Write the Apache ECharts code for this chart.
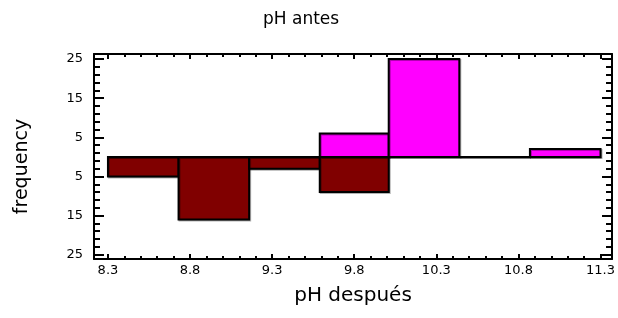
<!DOCTYPE html>
<html>
<head>
<meta charset="utf-8">
<script src="https://cdn.jsdelivr.net/npm/echarts@6/dist/echarts.min.js"></script>
<style>
  html, body { margin: 0; padding: 0; background: #fff; }
  #chart { width: 618px; height: 318px; }
</style>
</head>
<body>
<div id="chart"></div>
<script>
// bin edges of both histograms (pH)
const binEdges = [8.3, 8.73, 9.16, 9.59, 10.01, 10.44, 10.87, 11.3]
// counts per bin
const antesCounts = [0, 0, 0, 6, 25, 0, 2]
const despuesCounts = [5, 16, 3, 9, 0, 0, 0]

const xMajorTicks = [8.3, 8.8, 9.3, 9.8, 10.3, 10.8, 11.3]
const xMinorTicks = [
  8.3, 8.4, 8.5, 8.6, 8.7, 8.8, 8.9, 9.0, 9.1, 9.2, 9.3, 9.4, 9.5, 9.6, 9.7, 9.8,
  9.9, 10.0, 10.1, 10.2, 10.3, 10.4, 10.5, 10.6, 10.7, 10.8, 10.9, 11.0, 11.1, 11.2, 11.3
]
const yMajorTicks = [-25, -15, -5, 5, 15, 25]
const yMinorTicks = [
  -25, -23, -21, -19, -17, -15, -13, -11, -9, -7, -5, -3, -1,
  1, 3, 5, 7, 9, 11, 13, 15, 17, 19, 21, 23, 25
]

const font = 'DejaVu Sans, Liberation Sans, sans-serif'

// [start, end, value] per bin, the lower histogram goes negative
const antesData = antesCounts.map((c, i) => [binEdges[i], binEdges[i + 1], c])
const despuesData = despuesCounts.map((c, i) => [binEdges[i], binEdges[i + 1], -c])

function binRenderer(color) {
  return function (params, api) {
    const p0 = api.coord([api.value(0), 0])
    const p1 = api.coord([api.value(1), api.value(2)])
    return {
      type: 'rect',
      shape: {
        x: p0[0],
        y: Math.min(p0[1], p1[1]),
        width: p1[0] - p0[0],
        height: Math.abs(p1[1] - p0[1])
      },
      style: {
        fill: color,
        stroke: '#000',
        lineWidth: 2,
        shadowColor: 'rgba(0,0,0,0.3)',
        shadowOffsetX: 1,
        shadowOffsetY: 1
      }
    }
  }
}

const xMin = 8.215
const xMax = 11.37
const yMin = -26.1
const yMax = 26.3

const chart = echarts.init(document.getElementById('chart'))

const tickStyle = { color: '#000', width: 2 }
const xBase = { type: 'value', min: xMin, max: xMax, splitLine: { show: false } }
const yBase = { type: 'value', min: yMin, max: yMax, splitLine: { show: false } }

chart.setOption({
  animation: false,
  title: {
    text: 'pH antes',
    left: 263,
    top: 11,
    padding: 0,
    textStyle: { fontFamily: font, fontSize: 17, fontWeight: 'normal', color: '#000' }
  },
  grid: { left: 94, top: 54, right: 5, bottom: 59 },
  xAxis: [
    {
      ...xBase,
      position: 'bottom',
      name: 'pH después',
      nameLocation: 'middle',
      nameGap: 27,
      nameTextStyle: { fontFamily: font, fontSize: 20, color: '#000' },
      axisLine: { onZero: false, lineStyle: { color: '#000', width: 2 } },
      axisTick: { inside: true, length: 5, lineStyle: tickStyle, customValues: xMajorTicks },
      axisLabel: { margin: 5, fontFamily: font, fontSize: 13, color: '#000', customValues: xMajorTicks, formatter: v => v.toFixed(1) }
    },
    {
      ...xBase,
      position: 'bottom',
      axisLine: { show: false, onZero: false },
      axisTick: { inside: true, length: 3, lineStyle: tickStyle, customValues: xMinorTicks },
      axisLabel: { show: false }
    },
    {
      ...xBase,
      position: 'top',
      axisLine: { onZero: false, lineStyle: { color: '#000', width: 2 } },
      axisTick: { inside: true, length: 5, lineStyle: tickStyle, customValues: xMajorTicks },
      axisLabel: { show: false }
    },
    {
      ...xBase,
      position: 'top',
      axisLine: { show: false, onZero: false },
      axisTick: { inside: true, length: 3, lineStyle: tickStyle, customValues: xMinorTicks },
      axisLabel: { show: false }
    }
  ],
  yAxis: [
    {
      ...yBase,
      position: 'left',
      name: 'frequency',
      nameLocation: 'middle',
      nameGap: 62,
      nameTextStyle: { fontFamily: font, fontSize: 19, color: '#000', padding: [0, 20, 0, 0] },
      axisLine: { onZero: false, lineStyle: { color: '#000', width: 2 } },
      axisTick: { inside: true, length: 10, lineStyle: tickStyle, customValues: yMajorTicks },
      axisLabel: { margin: 11, fontFamily: font, fontSize: 13, color: '#000', customValues: yMajorTicks, formatter: v => String(Math.abs(v)) }
    },
    {
      ...yBase,
      position: 'left',
      axisLine: { show: false, onZero: false },
      axisTick: { inside: true, length: 6, lineStyle: tickStyle, customValues: yMinorTicks },
      axisLabel: { show: false }
    },
    {
      ...yBase,
      position: 'right',
      axisLine: { onZero: false, lineStyle: { color: '#000', width: 2 } },
      axisTick: { inside: true, length: 10, lineStyle: tickStyle, customValues: yMajorTicks },
      axisLabel: { show: false }
    },
    {
      ...yBase,
      position: 'right',
      axisLine: { show: false, onZero: false },
      axisTick: { inside: true, length: 6, lineStyle: tickStyle, customValues: yMinorTicks },
      axisLabel: { show: false }
    }
  ],
  series: [
    {
      name: 'pH después',
      type: 'custom',
      xAxisIndex: 0,
      yAxisIndex: 0,
      encode: { x: [0, 1], y: 2 },
      renderItem: binRenderer('#800000'),
      data: despuesData
    },
    {
      name: 'pH antes',
      type: 'custom',
      xAxisIndex: 0,
      yAxisIndex: 0,
      encode: { x: [0, 1], y: 2 },
      renderItem: binRenderer('#ff00ff'),
      data: antesData
    }
  ]
})
</script>
</body>
</html>
